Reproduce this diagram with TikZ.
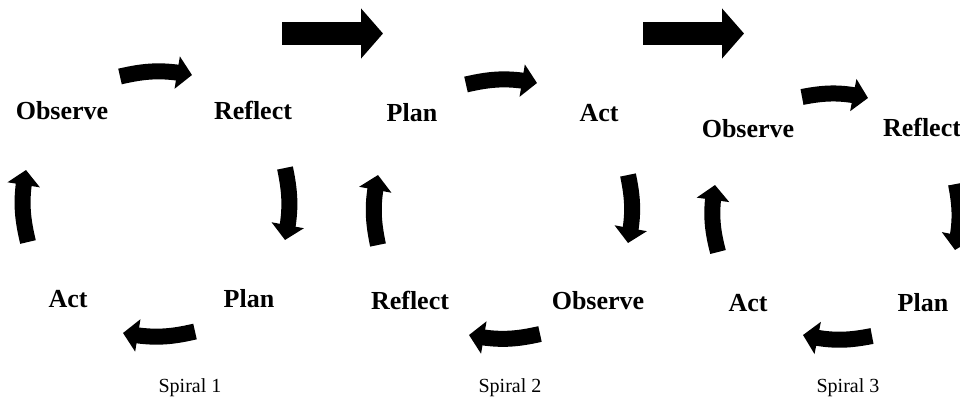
\documentclass[tikz,border=0pt]{standalone}
\usepackage{fontspec}
\setmainfont{Liberation Serif}
\usetikzlibrary{arrows.meta,bending}
\begin{document}
\begin{tikzpicture}[x=1pt,y=-1pt,
  lbl/.style={anchor=base,inner sep=0pt,font=\bfseries\fontsize{26}{30}\selectfont},
  spl/.style={anchor=base,inner sep=0pt,font=\fontsize{20}{24}\selectfont},
  carrow/.style={line width=16pt,-{Triangle[width=32pt,length=15pt,flex]}},
  bigarrow/.style={line width=23pt,-{Triangle[width=49pt,length=22pt]}}]
\useasboundingbox (0,0) rectangle (960,407);
% labels spiral 1
\node[lbl] (o1) at (62,119) {Observe};
\node[lbl] (r1) at (253,119) {Reflect};
\node[lbl] (p1) at (249,307) {Plan};
\node[lbl] (a1) at (68,307) {Act};
% spiral 2
\node[lbl] (p2) at (412,121) {Plan};
\node[lbl] (a2) at (599,121) {Act};
\node[lbl] (o2) at (598,309) {Observe};
\node[lbl] (r2) at (410,309) {Reflect};
% spiral 3
\node[lbl] (o3) at (748,137) {Observe};
\node[lbl] (r3) at (922,136) {Reflect};
\node[lbl] (a3) at (748,311) {Act};
\node[lbl] (p3) at (923,311) {Plan};
% captions
\node[spl] (c1) at (190,392) {Spiral 1};
\node[spl] (c2) at (510,392) {Spiral 2};
\node[spl] (c3) at (848,392) {Spiral 3};
% arrow end points
\coordinate (s1ta) at (120,76.5); \coordinate (s1tb) at (192,75);
\coordinate (s1ra) at (285,168);  \coordinate (s1rb) at (285,240);
\coordinate (s1ba) at (195,331.5);\coordinate (s1bb) at (123,333);
\coordinate (s1la) at (28,242);   \coordinate (s1lb) at (26,170);
\coordinate (s2ta) at (466,84.5); \coordinate (s2tb) at (537,83);
\coordinate (s2ra) at (628,175);  \coordinate (s2rb) at (628,243);
\coordinate (s2ba) at (540,334);  \coordinate (s2bb) at (469,335);
\coordinate (s2la) at (378,245);  \coordinate (s2lb) at (378,175);
\coordinate (s3ta) at (802,97);   \coordinate (s3tb) at (868,98);
\coordinate (s3ra) at (956,184);  \coordinate (s3rb) at (955,250);
\coordinate (s3ba) at (872,336);  \coordinate (s3bb) at (803,335);
\coordinate (s3la) at (718,252);  \coordinate (s3lb) at (715,185);
\coordinate (g1a) at (282,33.5);  \coordinate (g1b) at (383,33.5);
\coordinate (g2a) at (643,33.5);  \coordinate (g2b) at (744,33.5);
% curved arrows
\foreach \s in {1,2,3}{
  \foreach \k in {t,r,b,l}{
    \draw[carrow] (s\s\k a) to[bend left=12] (s\s\k b);
  }
}
% big arrows
\draw[bigarrow] (g1a) -- (g1b);
\draw[bigarrow] (g2a) -- (g2b);
\end{tikzpicture}
\end{document}
